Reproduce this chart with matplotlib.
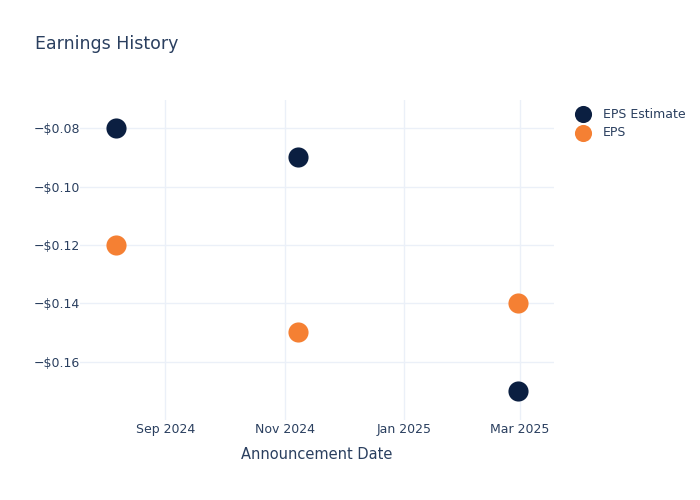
import matplotlib
matplotlib.use("Agg")
import matplotlib.pyplot as plt
import matplotlib.dates as mdates
from matplotlib.ticker import FuncFormatter
import datetime as dt

# data
dates = [dt.datetime(2024, 8, 7), dt.datetime(2024, 11, 8), dt.datetime(2025, 2, 28)]
eps_estimate = [-0.08, -0.09, -0.17]
eps_actual = [-0.12, -0.15, -0.14]
tick_dates = [dt.datetime(2024, 9, 1), dt.datetime(2024, 11, 1), dt.datetime(2025, 1, 1), dt.datetime(2025, 3, 1)]
tick_labels = ["Sep 2024", "Nov 2024", "Jan 2025", "Mar 2025"]
y_ticks = [-0.16, -0.14, -0.12, -0.10, -0.08]

text_col = "#2a3f5f"
grid_col = "#ebf0f8"
navy = "#0b1f41"
orange = "#f58033"

fig = plt.figure(figsize=(7, 5), dpi=100)
ax = fig.add_axes([80 / 700, 80 / 500, 474 / 700, 320 / 500])

ax.scatter(dates, eps_estimate, s=210, color=navy, label="EPS Estimate", zorder=3, linewidths=0)
ax.scatter(dates, eps_actual, s=210, color=orange, label="EPS", zorder=3, linewidths=0)

ax.set_xlim(mdates.date2num(dt.datetime(2024, 7, 19, 12)), mdates.date2num(dt.datetime(2025, 3, 18, 14)))
ax.set_ylim(-0.18, -0.0703)

ax.set_xticks([mdates.date2num(d) for d in tick_dates])
ax.set_xticklabels(tick_labels)
ax.set_yticks(y_ticks)
ax.yaxis.set_major_formatter(FuncFormatter(lambda v, p: "\u2212$%.2f" % abs(v)))

ax.grid(True, color=grid_col, linewidth=1)
ax.set_axisbelow(True)
for s in ax.spines.values():
    s.set_visible(False)
ax.tick_params(length=0, labelsize=9, colors=text_col)
ax.tick_params(axis="y", pad=0)
ax.tick_params(axis="x", pad=2)

ax.set_xlabel("Announcement Date", fontsize=10.5, color=text_col, labelpad=8)
fig.text(35 / 700, 1 - 44 / 500, "Earnings History", fontsize=12.5, color=text_col, va="center")

leg = ax.legend(loc="upper left", bbox_to_anchor=(1.02, 1.0), frameon=False,
                fontsize=9, labelcolor=text_col, handletextpad=0.55,
                labelspacing=0.45, borderaxespad=0.2, markerscale=0.85)

fig.savefig("out.png", dpi=100)
